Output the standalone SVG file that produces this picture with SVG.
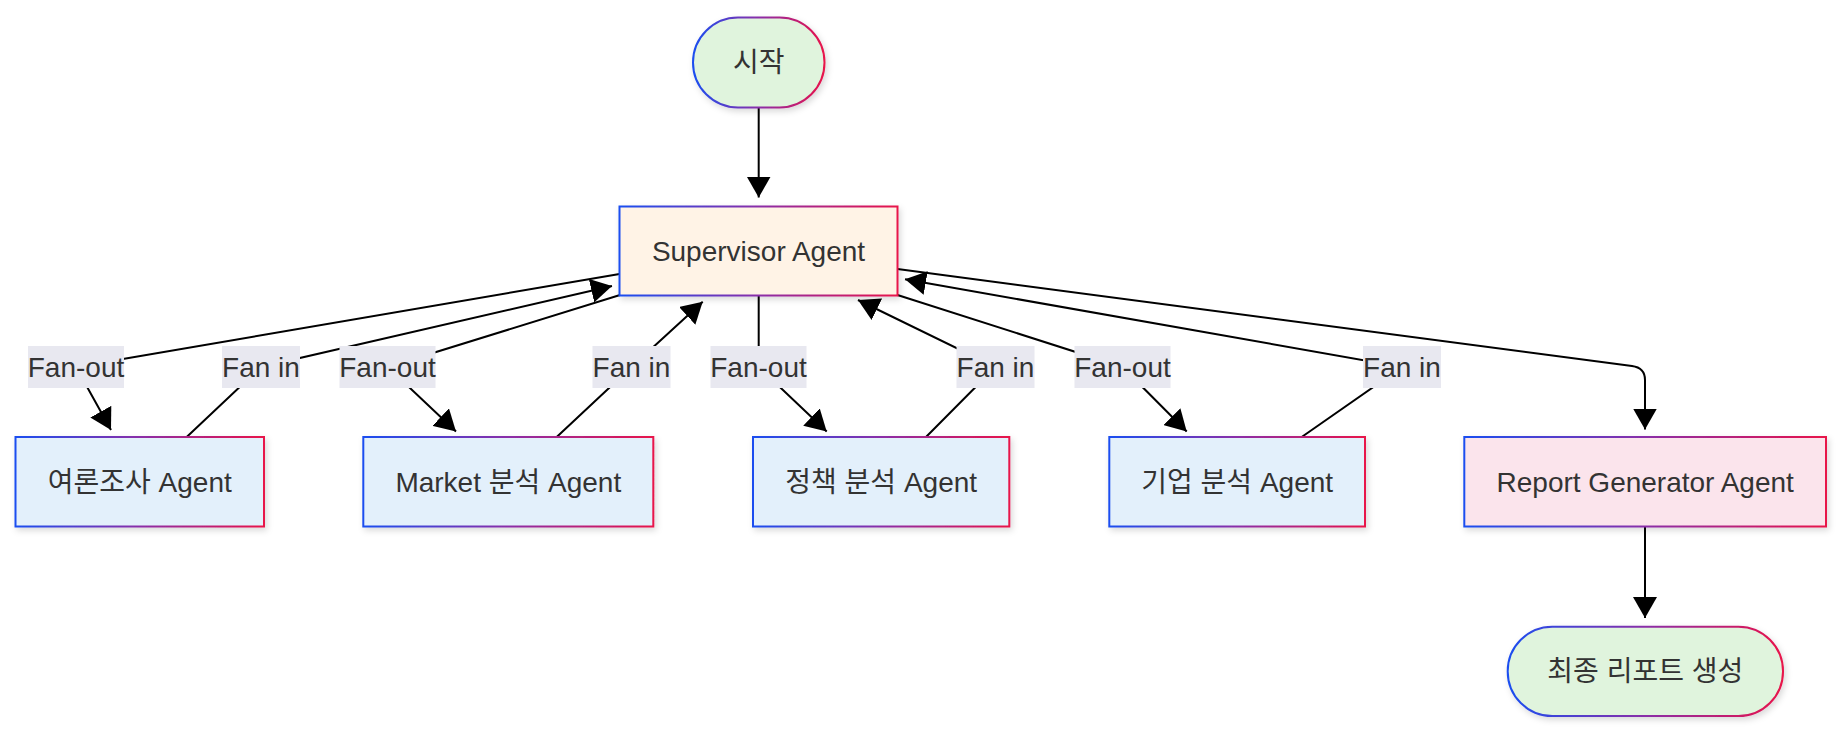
<svg xmlns="http://www.w3.org/2000/svg" width="1842" height="734" viewBox="0 0 1842 734">
<defs>
<style>
.node-text{font-family:"Liberation Sans",Arial,"Noto Sans CJK KR",sans-serif;font-size:28px;fill:#333;text-anchor:middle}
.lbl-text{font-family:"Liberation Sans",Arial,"Noto Sans CJK KR",sans-serif;font-size:28px;fill:#333;text-anchor:middle}
.lbl-bg{fill:#e8e8f0}
.edge{fill:none;stroke:#000;stroke-width:2}
.shape{stroke:url(#grad);stroke-width:2;filter:url(#shadow)}
.green{fill:#e0f4dd}
.orange{fill:#fff3e6}
.blue{fill:#e3f0fb}
.pink{fill:#fbe4ec}
</style>
<linearGradient id="grad" x1="0" y1="0" x2="1" y2="0">
<stop offset="0" stop-color="#1a4ef0"/>
<stop offset="0.5" stop-color="#8a2ea8"/>
<stop offset="1" stop-color="#e8124a"/>
</linearGradient>
<filter id="shadow" x="-10%" y="-20%" width="130%" height="150%">
<feDropShadow dx="2" dy="3" stdDeviation="3" flood-color="#000" flood-opacity="0.15"/>
</filter>
<marker id="arrow" viewBox="0 0 21 24" refX="21" refY="12" markerWidth="21" markerHeight="24" markerUnits="userSpaceOnUse" orient="auto">
<path d="M0,0 L21,12 L0,24 z" fill="#000"/>
</marker>
</defs>

<g id="connectors">
<path class="edge" d="M758.7,107.5 L758.7,197.5" marker-end="url(#arrow)"/>
<path class="edge" d="M619.5,274 L76,367 L111,430" marker-end="url(#arrow)"/>
<path class="edge" d="M186.7,437 L261,367 L612,286" marker-end="url(#arrow)"/>
<path class="edge" d="M620,295 L387.7,367 L456,431.5" marker-end="url(#arrow)"/>
<path class="edge" d="M556.7,437 L631.5,367 L702.7,301.7" marker-end="url(#arrow)"/>
<path class="edge" d="M758.7,295.5 L758.7,367 L826.7,431.5" marker-end="url(#arrow)"/>
<path class="edge" d="M926,437 L995.5,367 L858,300" marker-end="url(#arrow)"/>
<path class="edge" d="M897.5,295 L1122.5,367 L1186.7,431.5" marker-end="url(#arrow)"/>
<path class="edge" d="M1301.7,437 L1402,367 L905,279.3" marker-end="url(#arrow)"/>
<path class="edge" d="M897.5,269 L1632,366 Q1645,367.7 1645,380 L1645,429.5" marker-end="url(#arrow)"/>
<path class="edge" d="M1645,527 L1645,618" marker-end="url(#arrow)"/>

<g id="edge-labels">
<rect class="lbl-bg" x="28" y="346" width="96" height="42"/>
<text class="lbl-text" x="76" y="376.5">Fan-out</text>
<rect class="lbl-bg" x="222" y="346" width="78" height="42"/>
<text class="lbl-text" x="261" y="376.5">Fan in</text>
<rect class="lbl-bg" x="339.5" y="346" width="96" height="42"/>
<text class="lbl-text" x="387.5" y="376.5">Fan-out</text>
<rect class="lbl-bg" x="592.5" y="346" width="78" height="42"/>
<text class="lbl-text" x="631.5" y="376.5">Fan in</text>
<rect class="lbl-bg" x="710.5" y="346" width="96" height="42"/>
<text class="lbl-text" x="758.5" y="376.5">Fan-out</text>
<rect class="lbl-bg" x="956.5" y="346" width="78" height="42"/>
<text class="lbl-text" x="995.5" y="376.5">Fan in</text>
<rect class="lbl-bg" x="1074.5" y="346" width="96" height="42"/>
<text class="lbl-text" x="1122.5" y="376.5">Fan-out</text>
<rect class="lbl-bg" x="1363" y="346" width="78" height="42"/>
<text class="lbl-text" x="1402" y="376.5">Fan in</text>
</g>
</g>

<g id="start">
<rect class="shape green" x="693" y="17.5" width="131.5" height="90" rx="45" ry="45"/>
<text class="node-text" x="758.7" y="72">시작</text>
</g>
<g id="supervisor">
<rect class="shape orange" x="619.5" y="206.5" width="278" height="89"/>
<text class="node-text" x="758.5" y="260.5">Supervisor Agent</text>
</g>
<g id="poll-agent">
<rect class="shape blue" x="15.5" y="437" width="248.5" height="89.5"/>
<text class="node-text" x="139.8" y="491.5">여론조사 Agent</text>
</g>
<g id="market-agent">
<rect class="shape blue" x="363.3" y="437" width="290" height="89.5"/>
<text class="node-text" x="508.3" y="491.5">Market 분석 Agent</text>
</g>
<g id="policy-agent">
<rect class="shape blue" x="753" y="437" width="256.3" height="89.5"/>
<text class="node-text" x="881.2" y="491.5">정책 분석 Agent</text>
</g>
<g id="company-agent">
<rect class="shape blue" x="1109.3" y="437" width="255.7" height="89.5"/>
<text class="node-text" x="1237.2" y="491.5">기업 분석 Agent</text>
</g>
<g id="report-agent">
<rect class="shape pink" x="1464.3" y="437" width="361.7" height="89.5"/>
<text class="node-text" x="1645.2" y="491.5">Report Generator Agent</text>
</g>
<g id="end">
<rect class="shape green" x="1507.7" y="626.7" width="275.3" height="89.3" rx="44.6" ry="44.6"/>
<text class="node-text" x="1645.3" y="681">최종 리포트 생성</text>
</g>
</svg>
